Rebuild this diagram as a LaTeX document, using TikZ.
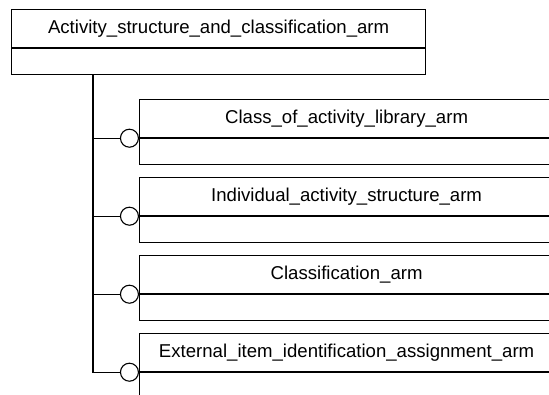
\documentclass[tikz,border=0pt]{standalone}
\usepackage{fontspec}
\newfontfamily\armfont{Liberation Sans}
\usetikzlibrary{positioning}
\begin{document}
\begin{tikzpicture}
[x=1pt,y=-1pt,
armhead/.style={draw,line width=1.2pt,minimum width=414pt,minimum height=38pt,inner sep=0pt,
                font=\armfont\fontsize{18.6}{21}\selectfont},
armbody/.style={draw,line width=1.2pt,minimum width=414pt,minimum height=26pt,inner sep=0pt},
ring/.style={circle,draw,fill=white,line width=1.1pt,minimum size=18pt,inner sep=0pt}
]
\useasboundingbox (0,0) rectangle (549,394);
\clip (0,0) rectangle (549,394);
%\tikzset{every node/.style={draw,rectangle}}
\node[armhead,anchor=north west] (asc) at (11,9) {Activity\_structure\_and\_classification\_arm};
\node[armbody,below=0pt of asc] (ascbody) {};

\node[armhead,anchor=north west] (coal) at (139,99) {Class\_of\_activity\_library\_arm};
\node[armbody,below=0pt of coal] (coalbody) {};
\node[ring,left=0pt of coal.south west] (coalring) {};

\node[armhead,anchor=north west] (ias) at (139,177) {Individual\_activity\_structure\_arm};
\node[armbody,below=0pt of ias] (iasbody) {};
\node[ring,left=0pt of ias.south west] (iasring) {};

\node[armhead,anchor=north west] (cls) at (139,255) {Classification\_arm};
\node[armbody,below=0pt of cls] (clsbody) {};
\node[ring,left=0pt of cls.south west] (clsring) {};

\node[armhead,anchor=north west] (eiia) at (139,333) {External\_item\_identification\_assignment\_arm};
\node[armbody,below=0pt of eiia] (eiiabody) {};
\node[ring,left=0pt of eiia.south west] (eiiaring) {};

% trunk and branches
\coordinate (trunk) at ([xshift=82pt]ascbody.south west);
\draw[line width=1.1pt] (trunk) |- (eiiaring.west);
\draw[line width=1.1pt] (trunk |- coalring) -- (coalring.west);
\draw[line width=1.1pt] (trunk |- iasring) -- (iasring.west);
\draw[line width=1.1pt] (trunk |- clsring) -- (clsring.west);
\end{tikzpicture}
\end{document}
